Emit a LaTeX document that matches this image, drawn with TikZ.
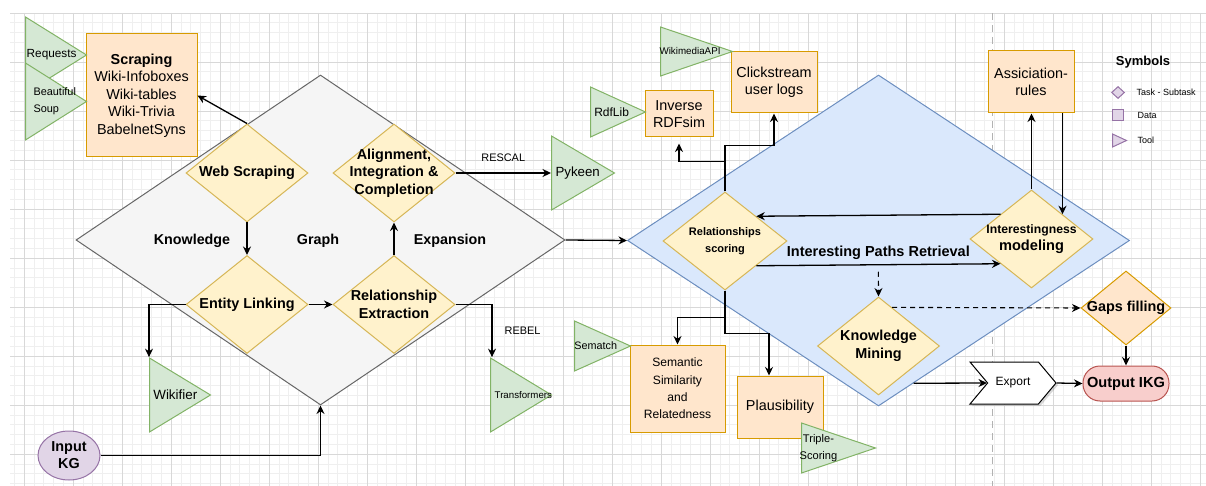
\documentclass[tikz,border=0pt]{standalone}
\usepackage{fontspec}
\setmainfont{Liberation Sans}
\usetikzlibrary{shapes.geometric,shapes.symbols,shadows,arrows.meta,calc}

\definecolor{gridminor}{HTML}{EFEFEF}
\definecolor{gridmajor}{HTML}{D8D8D8}
\definecolor{kgfill}{HTML}{F5F5F5}
\definecolor{kgline}{HTML}{666666}
\definecolor{pathfill}{HTML}{DAE8FC}
\definecolor{pathline}{HTML}{6C8EBF}
\definecolor{taskfill}{HTML}{FFF2CC}
\definecolor{taskline}{HTML}{D6B656}
\definecolor{datafill}{HTML}{FFE6CC}
\definecolor{dataline}{HTML}{D79B00}
\definecolor{toolfill}{HTML}{D5E8D4}
\definecolor{toolline}{HTML}{82B366}
\definecolor{inputfill}{HTML}{E1D5E7}
\definecolor{inputline}{HTML}{9673A6}
\definecolor{outputfill}{HTML}{F8CECC}
\definecolor{outputline}{HTML}{B85450}

\newcommand{\fsz}[2]{\fontsize{#1}{#2}\selectfont}

\begin{document}
\begin{tikzpicture}[x=1pt, y=-1pt, line width=1.3pt, >={Stealth[length=8.5pt,width=8pt]},
    kgbox/.style = {diamond, draw=kgline, fill=kgfill, line width=1pt, inner sep=0pt},
    kgtxt/.style = {font=\fsz{14.3}{17}\bfseries},
    task/.style = {diamond, draw=taskline, fill=taskfill, line width=1pt, inner sep=0pt, minimum width=122, minimum height=98},
    tasktxt/.style = {font=\fsz{14.4}{17.5}\bfseries, align=center},
    data/.style = {rectangle, draw=dataline, fill=datafill, line width=1pt, inner sep=2pt, align=center, font=\fsz{14.4}{17.5}},
    tool/.style = {isosceles triangle, isosceles triangle stretches, draw=toolline, fill=toolfill, line width=1pt, inner sep=0pt, anchor=lower side},
    tooltxt/.style = {align=center, inner sep=0pt, xshift=5pt, font=\fsz{11}{15}},
    legend/.style = {draw=inputline, fill=inputfill, line width=1pt, inner sep=0pt},
    legtxt/.style = {anchor=west, inner sep=0pt, font=\fsz{9}{11}},
    edgetxt/.style = {inner sep=0pt, font=\fsz{10.9}{13}},
    dashline/.style = {dash pattern=on 5pt off 4pt, line width=1.1pt}]
    \useasboundingbox (0,0) rectangle (1206,486);
    % background grid
    \foreach \gx in {0,...,121} \draw[gridminor, line width=0.6pt] ({14.2+9.8*\gx},13) -- ++(0,473);
    \foreach \gy in {1,...,48} \draw[gridminor, line width=0.6pt] (10,{13+9.8*\gy}) -- ++(1196,0);
    \foreach \gx in {0,...,24} \draw[gridmajor, line width=0.8pt] ({24+49*\gx},13) -- ++(0,473);
    \foreach \gy in {0,...,9} \draw[gridmajor, line width=0.8pt] (10,{13+49*\gy}) -- ++(1196,0);
    \draw[gray!60, line width=1pt, dash pattern=on 7pt off 5pt] (992,13) -- (992,486);

    % the two phases
    \node[kgbox, minimum width=489, minimum height=330] (kgexp) at (320.5,240) {};
    \node[kgbox, draw=pathline, fill=pathfill, minimum width=502, minimum height=331] (paths) at (878.5,240.5) {};
    \node[kgtxt] (knowledge) at (192,241) {Knowledge};
    \node[kgtxt] (graph) at (318,241) {Graph};
    \node[kgtxt] (expansion) at (450,241) {Expansion};

    % tasks
    \node[task, label={[tasktxt]center:Web Scraping}] (webscr) at (247,173) {};
    \node[task, label={[tasktxt]center:{Alignment,\\Integration \&\\Completion}}] (align) at (394,173) {};
    \node[task, label={[tasktxt]center:Entity Linking}] (entlink) at (247,304.5) {};
    \node[task, label={[tasktxt]center:{Relationship\\Extraction}}] (relext) at (394,304.5) {};
    \node[task, minimum width=124, label={[tasktxt, font=\fsz{11}{17.5}\bfseries]center:{Relationships\\scoring}}] (rscore) at (725,241) {};
    \node[task, minimum width=123, label={[tasktxt, font=\fsz{14.6}{17}\bfseries]center:{{\fsz{12.2}{17}Interestingness}\\modeling}}] (is) at (1031.5,239) {};
    \node[task, label={[tasktxt]center:{Knowledge\\Mining}}] (km) at (878.5,346) {};
    \node[task, draw=dataline, fill=datafill, minimum width=90, minimum height=74, label={[tasktxt]center:Gaps filling}] (gaps) at (1126,308) {};

    % data
    \node[data, minimum width=111, minimum height=123] (scrap) at (141.5,95.5) {\textbf{Scraping}\\Wiki-Infoboxes\\Wiki-tables\\Wiki-Trivia\\BabelnetSyns};
    \node[data, minimum width=68, minimum height=46] (rdfsim) at (679,114) {Inverse\\RDFsim};
    \node[data, minimum width=86, minimum height=61] (clicks) at (774,82.5) {Clickstream\\user logs};
    \node[data, minimum width=86, minimum height=62] (assoc) at (1031,82) {Assiciation-\\rules};
    \node[data, minimum width=95, minimum height=87, font=\fsz{12.1}{17.4}] (semsim) at (677.5,388.5) {Semantic\\Similarity\\and\\Relatedness};
    \node[data, minimum width=86, minimum height=62] (plaus) at (780,407) {Plausibility};

    % tools
    \node[tool, minimum width=76, minimum height=61, label={[tooltxt, font=\fsz{11.8}{14}]center:Requests}] (requests) at (25,55) {};
    \node[tool, minimum width=77, minimum height=61, label={[tooltxt, align=left, xshift=3pt, font=\fsz{10.9}{17}]center:{Beautiful\\Soup}}] (bsoup) at (25,101.5) {};
    \node[tool, minimum width=74, minimum height=63, label={[tooltxt, font=\fsz{13.3}{16}]center:Pykeen}] (pykeen) at (551,173) {};
    \node[tool, minimum width=74, minimum height=61, label={[tooltxt, font=\fsz{13.4}{16}]center:Wikifier}] (wikifier) at (149,395) {};
    \node[tool, minimum width=74, minimum height=61, label={[tooltxt, xshift=7pt, font=\fsz{9.7}{12}]center:Transformers}] (transf) at (490,395) {};
    \node[tool, minimum width=50, minimum height=55, label={[tooltxt, font=\fsz{12}{14}]center:RdfLib}] (rdflib) at (590,112) {};
    \node[tool, minimum width=49, minimum height=72, label={[tooltxt, xshift=7pt, font=\fsz{9.8}{12}]center:WikimediaAPI}] (wikimedia) at (660,51.5) {};
    \node[tool, minimum width=50, minimum height=56, label={[tooltxt, font=\fsz{10.8}{13}]center:Sematch}] (sematch) at (574,346) {};
    \node[tool, minimum width=50, minimum height=74, label={[tooltxt, xshift=-6pt, font=\fsz{11.1}{17}]center:{Triple-\\Scoring}}] (triple) at (801,448) {};

    % input / output
    \node[ellipse, draw=inputline, fill=inputfill, line width=1pt, minimum width=62, minimum height=49, inner sep=0pt, align=center, font=\fsz{14.4}{17}\bfseries] (inkg) at (69,455.5) {Input\\KG};
    \node[rectangle, rounded corners=17, draw=outputline, fill=outputfill, line width=1pt, minimum width=86, minimum height=35, inner sep=1pt, font=\fsz{14.6}{17}\bfseries] (outikg) at (1126,383.5) {Output IKG};
    \node[signal, signal to=east, signal from=west, signal pointer angle=100, draw=black, fill=white, line width=1pt, minimum width=86, minimum height=42, drop shadow={opacity=0.3, shadow xshift=2pt, shadow yshift=-2pt}, font=\fsz{12}{14}] (export) at (1013,383) {Export};

    % legend
    \node[font=\fsz{13}{15}\bfseries] (symbols) at (1143,62) {Symbols};
    \node[diamond, legend, minimum width=13, minimum height=12] (legtask) at (1118,92.5) {};
    \node[rectangle, legend, minimum size=11] (legdata) at (1118,115.5) {};
    \node[isosceles triangle, isosceles triangle stretches, legend, minimum width=13, minimum height=14, anchor=lower side] (legtool) at (1112,140.5) {};
    \node[legtxt] (legtasktxt) at (1136,92.5) {Task - Subtask};
    \node[legtxt] (legdatatxt) at (1137,115.5) {Data};
    \node[legtxt] (legtooltxt) at (1137,140.5) {Tool};

    % connectors
    \draw[->] (webscr.north) -- (scrap.east);
    \draw[->] (webscr.south) -- (entlink.north);
    \draw[->] (entlink.east) -- (relext.west);
    \draw[->] (relext.north) -- (align.south);
    \draw[->] (align.east) -- node[edgetxt, above=11pt] (rescal) {RESCAL} (pykeen.lower side);
    \draw[->] (entlink.west) -| (wikifier.left corner);
    \draw[->] (relext.east) -| node[edgetxt, pos=0.75, right=12pt] (rebel) {REBEL} ([xshift=2]transf.left corner);
    \draw[->] (inkg.east) -| (kgexp.south);
    \draw[->] (kgexp.east) -- (paths.west);
    \draw[->] (rscore.north) -- ++(0,-30) -| ([yshift=-6]rdfsim.south);
    \draw[->] (rscore.north) -- ++(0,-46) -| (clicks.south);
    \draw[->] (rscore.south) -- ++(0,27) -| (semsim.north);
    \draw[->] (rscore.south) -- ++(0,43) -| ([xshift=-11]plaus.north);
    \draw[->] (is.north west) -- (rscore.north east);
    \draw[->] (rscore.south east) -- node[kgtxt, font=\fsz{14.5}{17}\bfseries, above=1pt] (ipr) {Interesting Paths Retrieval} (is.south west);
    \draw[->, dashline] ($(rscore.south east)!0.5!(is.south west)$) ++(0,7) -- (km.north);
    \draw[->] (is.north) -- (is.north |- assoc.south);
    \draw[->] (is.north east |- assoc.south) -- (is.north east);
    \draw[->, dashline] ($(km.north)!0.22!(km.east)$) -- (gaps.west);
    \draw[->] ($(paths.south)!0.14!(paths.east)$) -- (export.west);
    \draw[->] (export.east) -- (outikg.west);
    \draw[->] (gaps.south) -- (outikg.north);
\end{tikzpicture}
\end{document}
